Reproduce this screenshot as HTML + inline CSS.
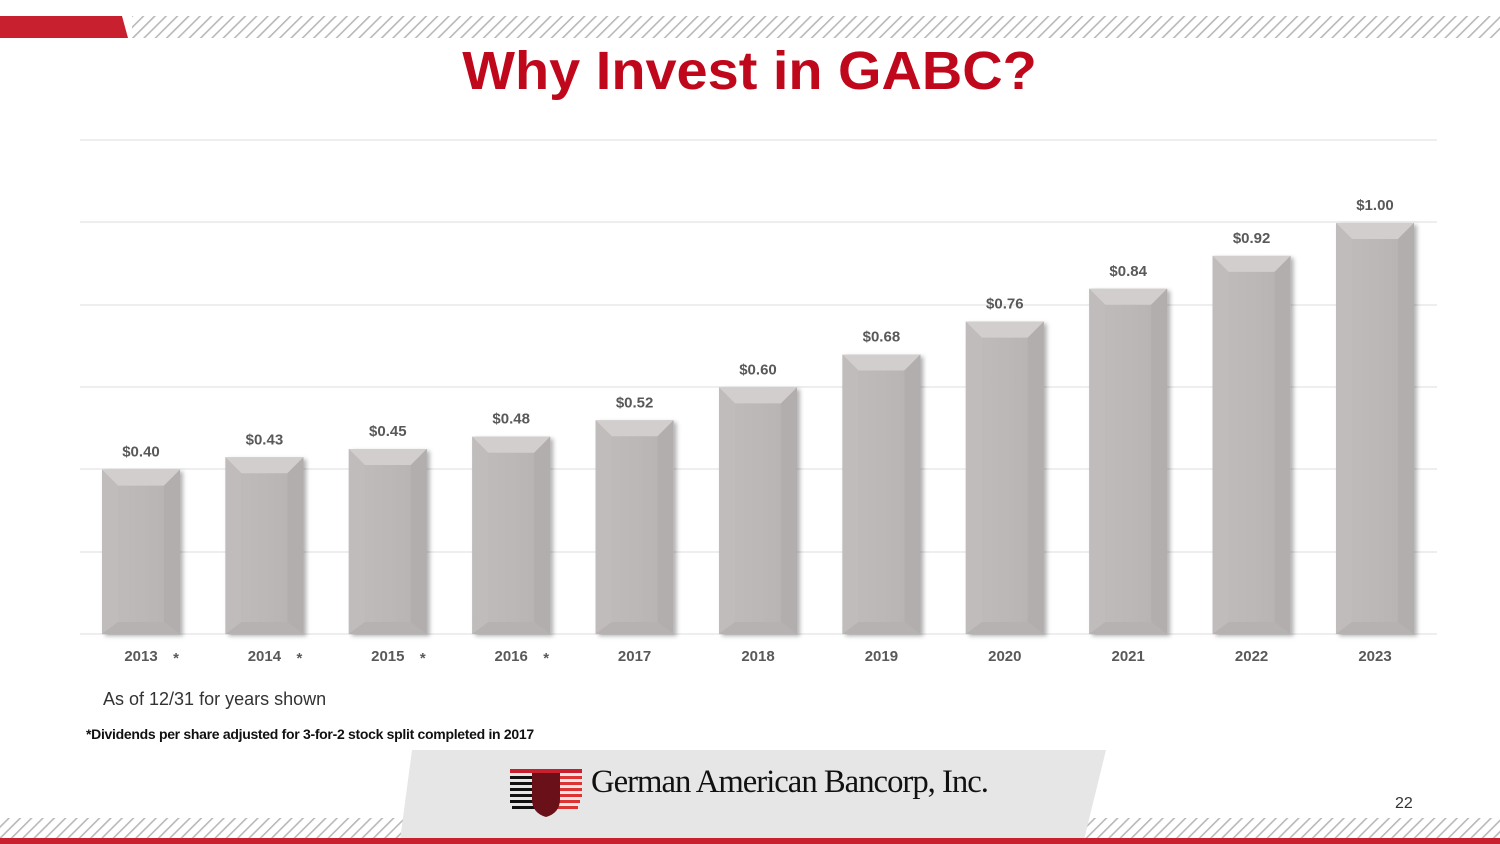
<!DOCTYPE html>
<html><head><meta charset="utf-8"><style>
body{margin:0;width:1500px;height:844px;overflow:hidden;background:#fff;font-family:"Liberation Sans",sans-serif;position:relative}
.abs{position:absolute}
</style></head><body>
<svg class="abs" style="left:0;top:0" width="1500" height="844">
<defs>
<pattern id="h" width="8" height="8" patternUnits="userSpaceOnUse" patternTransform="rotate(45)">
<rect x="0" y="0" width="1.6" height="8" fill="#b8b8b8"/></pattern>
<linearGradient id="bg" x1="0" x2="1"><stop offset="0" stop-color="#c0bcbc"/><stop offset="0.5" stop-color="#bcb8b8"/><stop offset="1" stop-color="#b6b2b2"/></linearGradient>
<filter id="sh" x="-20%" y="-10%" width="150%" height="120%"><feDropShadow dx="3" dy="2" stdDeviation="2" flood-color="#000" flood-opacity="0.3"/></filter>
</defs>
<polygon points="0,16 122,16 128,38 0,38" fill="#c8202f"/>
<rect x="132" y="16" width="1368" height="22" fill="url(#h)"/>
<rect x="0" y="818" width="1500" height="20" fill="url(#h)"/>
<polygon points="412,750 1106,750 1084,840 400,840" fill="#e6e6e6"/>
<rect x="0" y="838" width="1500" height="6" fill="#c8202f"/>
<g stroke="#dcdcdc" stroke-width="1">
<line x1="80" x2="1437" y1="140" y2="140"/><line x1="80" x2="1437" y1="222" y2="222"/>
<line x1="80" x2="1437" y1="305" y2="305"/><line x1="80" x2="1437" y1="387" y2="387"/>
<line x1="80" x2="1437" y1="469" y2="469"/><line x1="80" x2="1437" y1="552" y2="552"/>
<line x1="80" x2="1437" y1="634" y2="634"/></g>
<g id="bars" font-family="Liberation Sans,sans-serif" font-weight="bold" font-size="15" fill="#595959" text-anchor="middle"></g>
<g transform="translate(510,769)">
<rect x="0" y="0" width="72" height="4" fill="#c8202f"/>
<g fill="#111"><rect x="0" y="7" width="30" height="3"/><rect x="0" y="13" width="30" height="3"/><rect x="0" y="19" width="30" height="3"/><rect x="0" y="25" width="30" height="3"/><rect x="0" y="31" width="32" height="3"/><rect x="2" y="37" width="32" height="3"/></g>
<g fill="#d33"><rect x="42" y="7" width="30" height="3"/><rect x="42" y="13" width="30" height="3"/><rect x="42" y="19" width="30" height="3"/><rect x="42" y="25" width="30" height="3"/><rect x="40" y="31" width="30" height="3"/><rect x="38" y="37" width="30" height="3"/></g>
<path d="M22,4 H50 V30 Q50,44 36,48 Q22,44 22,30 Z" fill="#6a1018"/>
</g>
<text x="591" y="792" font-family="Liberation Serif,serif" font-size="33" letter-spacing="-1" textLength="397" lengthAdjust="spacingAndGlyphs" fill="#111">German American Bancorp, Inc.</text>
</svg>
<script>
var v=[0.40,0.43,0.45,0.48,0.52,0.60,0.68,0.76,0.84,0.92,1.00],y=["2013","2014","2015","2016","2017","2018","2019","2020","2021","2022","2023"];
var s="";for(var i=0;i<11;i++){var c=141+i*123.4,t=634-v[i]*411,x=c-39,b=634;
s+='<rect x="'+x+'" y="'+t+'" width="78" height="'+(b-t)+'" fill="url(#bg)" filter="url(#sh)"/>';
s+='<polygon points="'+x+','+t+' '+(x+78)+','+t+' '+(x+62)+','+(t+16)+' '+(x+16)+','+(t+16)+'" fill="#d2cece"/>';
s+='<polygon points="'+x+','+t+' '+(x+16)+','+(t+16)+' '+(x+16)+','+(b-12)+' '+x+','+b+'" fill="#c0bcbc"/>';
s+='<polygon points="'+(x+78)+','+t+' '+(x+62)+','+(t+16)+' '+(x+62)+','+(b-12)+' '+(x+78)+','+b+'" fill="#b2aeae"/>';
s+='<polygon points="'+x+','+b+' '+(x+16)+','+(b-12)+' '+(x+62)+','+(b-12)+' '+(x+78)+','+b+'" fill="#b6b2b2"/>';
s+='<text x="'+c+'" y="'+(t-13)+'">$'+v[i].toFixed(2)+'</text>';
s+='<text x="'+c+'" y="661">'+y[i]+'</text>';if(i<4)s+='<text x="'+(c+35)+'" y="663">*</text>';}
document.getElementById("bars").innerHTML=s;
</script>
<div class="abs" style="left:0;width:1500px;top:40px;text-align:center;"><span style="display:inline-block;font-size:54px;font-weight:bold;color:#c0081c;transform:scaleX(1.035)">Why Invest in GABC?</span></div>
<div class="abs" style="left:103px;top:689px;font-size:18px;color:#333">As of 12/31 for years shown</div>
<div class="abs" style="left:86px;top:726px;font-size:14px;font-weight:bold;color:#111;letter-spacing:-0.3px">*Dividends per share adjusted for 3-for-2 stock split completed in 2017</div>
<div class="abs" style="left:1395px;top:795px;font-size:16px;color:#333">22</div>
</body></html>
